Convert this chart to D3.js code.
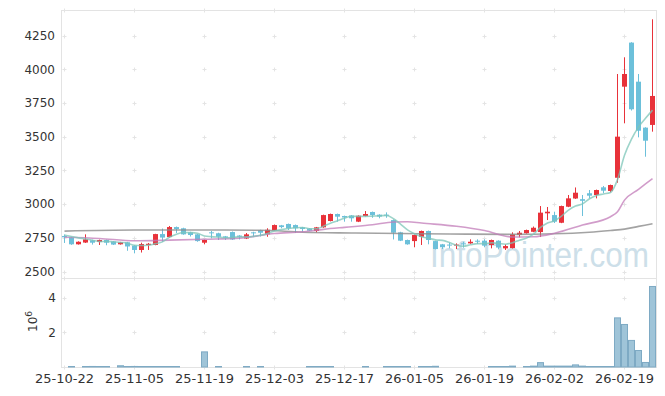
<!DOCTYPE html>
<html>
<head>
<meta charset="utf-8">
<script src="https://cdnjs.cloudflare.com/ajax/libs/d3/7.8.5/d3.min.js"></script>
<style>
  body { margin: 0; background: #fff; }
  svg { display: block; font-family: "DejaVu Sans", sans-serif; }
</style>
</head>
<body>
<svg id="chart" width="665" height="396"></svg>
<script>
// trading days (KRX), yy-mm-dd
var dates = ["25-10-22","25-10-23","25-10-24","25-10-27","25-10-28","25-10-29","25-10-30","25-10-31","25-11-03","25-11-04",
  "25-11-05","25-11-06","25-11-07","25-11-10","25-11-11","25-11-12","25-11-13","25-11-14","25-11-17","25-11-18",
  "25-11-19","25-11-20","25-11-21","25-11-24","25-11-25","25-11-26","25-11-27","25-11-28","25-12-01","25-12-02",
  "25-12-03","25-12-04","25-12-05","25-12-08","25-12-09","25-12-10","25-12-11","25-12-12","25-12-15","25-12-16",
  "25-12-17","25-12-18","25-12-19","25-12-22","25-12-23","25-12-24","25-12-26","25-12-29","25-12-30","26-01-02",
  "26-01-05","26-01-06","26-01-07","26-01-08","26-01-09","26-01-12","26-01-13","26-01-14","26-01-15","26-01-16",
  "26-01-19","26-01-20","26-01-21","26-01-22","26-01-23","26-01-26","26-01-27","26-01-28","26-01-29","26-01-30",
  "26-02-02","26-02-03","26-02-04","26-02-05","26-02-06","26-02-09","26-02-10","26-02-11","26-02-12","26-02-13",
  "26-02-19","26-02-20","26-02-23","26-02-24","26-02-25"];

var opens = [2764,2754,2702,2715,2732,2719,2734,2723,2702,2717, 2692,2660,2697,2697,2778,2756,2830,2821,2791,2776,
  2714,2791,2784,2761,2793,2767,2745,2791,2806,2776, 2806,2843,2853,2845,2828,2819,2801,2828,2875,2927,
  2912,2916,2870,2912,2942,2922,2922,2882,2791,2734, 2726,2758,2801,2726,2702,2700,2693,2709,2709,2729,
  2729,2697,2729,2672,2674,2771,2784,2795,2793,2932, 2919,2862,2981,3042,3037,3081,3068,3125,3098,3196,
  3872,4199,3909,3568,3588];
var highs = [2775,2758,2724,2776,2736,2737,2737,2726,2720,2720, 2695,2714,2712,2780,2819,2838,2834,2825,2795,2779,
  2737,2801,2788,2764,2797,2770,2786,2795,2810,2821, 2849,2846,2856,2849,2831,2822,2831,2922,2930,2930,
  2915,2919,2917,2949,2945,2925,2939,2886,2795,2737, 2774,2804,2804,2729,2705,2714,2709,2721,2739,2739,
  2739,2737,2732,2702,2791,2801,2811,2834,2986,2979, 2944,2989,3068,3124,3068,3105,3108,3135,3145,3966,
  4090,4202,3966,3571,4372];
var lows = [2712,2698,2700,2712,2700,2697,2695,2697,2700,2654, 2635,2641,2660,2695,2721,2752,2786,2773,2760,2721,
  2702,2746,2734,2734,2734,2738,2741,2756,2760,2758, 2803,2821,2808,2786,2795,2800,2791,2825,2872,2870,
  2870,2870,2867,2909,2899,2895,2899,2738,2726,2699, 2680,2697,2702,2664,2667,2672,2667,2677,2706,2704,
  2680,2672,2665,2660,2671,2754,2781,2792,2756,2882, 2860,2859,2978,3039,2912,3043,3043,3081,3088,3159,
  3600,3695,3496,3352,3538];
var closes = [2754,2702,2721,2739,2714,2734,2714,2700,2717,2686, 2660,2704,2706,2778,2752,2830,2815,2776,2771,2726,
  2734,2786,2758,2751,2738,2758,2776,2784,2788,2810, 2845,2830,2821,2821,2816,2803,2828,2919,2927,2907,
  2901,2895,2914,2927,2919,2908,2917,2788,2729,2702, 2771,2801,2734,2667,2680,2693,2700,2702,2721,2721,
  2692,2734,2678,2689,2776,2788,2808,2825,2937,2944, 2870,2986,3043,3085,3025,3063,3105,3100,3142,3501,
  3966,3704,3545,3471,3803];

// volume, millions of shares
var volume = [0,0.02,0,0.02,0.06,0.02,0.02,0,0.1,0.02, 0.06,0.02,0.02,0.02,0.02,0.02,0.02,0,0,0,
  0.9,0,0.02,0,0,0,0.02,0,0.02,0, 0,0,0,0,0,0.02,0.02,0.02,0.02,0,
  0,0,0,0.02,0,0,0.02,0.02,0.02,0.02, 0,0.02,0.02,0.07,0,0,0,0,0,0,
  0,0.02,0.02,0.02,0.08,0,0.02,0.08,0.28,0.08, 0.08,0.08,0.08,0.15,0.08,0.02,0.02,0.02,0.02,2.86,
  2.48,1.56,0.98,0.29,4.67];

// moving averages
var ma5 = [2771,2760,2750,2742,2732,2722,2724,2720,2716,2710, 2695,2693,2695,2707,2720,2754,2776,2790,2789,2784,
  2764,2759,2755,2751,2753,2758,2756,2761,2769,2783, 2801,2811,2819,2825,2827,2818,2818,2837,2859,2877,
  2896,2910,2909,2909,2911,2913,2917,2892,2852,2809, 2781,2758,2747,2735,2731,2715,2695,2688,2699,2707,
  2707,2714,2709,2703,2714,2733,2748,2777,2827,2860, 2877,2912,2956,2986,3002,3040,3064,3076,3087,3182,
  3363,3483,3572,3637,3698];
var ma20 = [[0,2754],[5,2745],[10,2728],[15,2733],[20,2740],[25,2748],[30,2782],[34,2795],[37,2813],[40,2828],
  [44,2847],[47,2868],[49,2870],[51,2860],[56,2836],[60,2805],[64,2756],[67,2758],[70,2784],[74,2845],
  [78,2907],[79,2944],[80,3030],[82,3110],[84,3190]];
var ma60 = [[0,2800],[10,2808],[20,2808],[28,2806],[34,2792],[41,2786],[48,2782],[55,2779],[64,2776],[70,2780],
  [75,2792],[78,2805],[80,2815],[82,2835],[84,2855]];

var priceTicks = [2500,2750,3000,3250,3500,3750,4000,4250];
var volTicks = [2,4];
var dateTickIdx = [0,10,20,30,40,50,60,70,80];

var svg = d3.select("#chart");
var plotLeft = 61, plotRight = 656, plotTop = 10, plotMid = 278, plotBottom = 367;

var x = d3.scaleLinear().domain([-0.5, dates.length - 0.5]).range([plotLeft, plotRight]);
var yP = d3.scaleLinear().domain([2452, 4441]).range([plotMid, plotTop]);
var yV = d3.scaleLinear().domain([0, 5.13]).range([plotBottom, plotMid]);

// watermark
svg.append("text")
    .attr("x", 430).attr("y", 267)
    .attr("textLength", 219).attr("lengthAdjust", "spacingAndGlyphs")
    .style("font-family", "'Liberation Sans', sans-serif")
    .style("font-size", "35px")
    .attr("fill", "#cddfe9")
    .text("InfoPointer.com");

// frame
var frame = svg.append("g").attr("stroke", "#e3e3e3").attr("fill", "none");
frame.append("rect").attr("x", plotLeft + 0.5).attr("y", plotTop + 0.5)
    .attr("width", plotRight - plotLeft).attr("height", plotBottom - plotTop);
frame.append("line").attr("x1", plotLeft).attr("x2", plotRight).attr("y1", plotMid + 0.5).attr("y2", plotMid + 0.5);

// small "+" markers at grid intersections
var gridY = priceTicks.map(function (d) { return yP(d); })
    .concat(volTicks.map(function (d) { return yV(d); }))
    .concat([plotTop, plotMid, plotBottom]);
var crosses = [];
dateTickIdx.forEach(function (i) {
    gridY.forEach(function (gy) { crosses.push([x(i), Math.round(gy) + 0.5]); });
});
svg.append("g").attr("stroke", "#e4e4e4").attr("stroke-width", 1)
    .selectAll("path").data(crosses).enter().append("path")
    .attr("d", function (d) { return "M" + (d[0] - 2) + "," + d[1] + "h4M" + d[0] + "," + (d[1] - 2) + "v4"; });

// volume bars
svg.append("g").selectAll("rect")
    .data(volume.map(function (v, i) { return { i: i, v: v }; }).filter(function (d) { return d.v > 0; }))
    .enter().append("rect")
    .attr("x", function (d) { return x(d.i - 0.5) + 0.5; })
    .attr("width", function (d) { return x(d.i + 0.5) - x(d.i - 0.5) - 1; })
    .attr("y", function (d) { return Math.min(yV(d.v), plotBottom - 1) + 0.5; })
    .attr("height", function (d) { return Math.max(1, plotBottom - yV(d.v)) - 0.5; })
    .attr("fill", "#9fc4d8")
    .attr("stroke", "#7eaac4")
    .attr("stroke-width", 1);

// candles
var up = "#e8323a", down = "#6cc0da";
var candles = svg.append("g").selectAll("g")
    .data(dates.map(function (d, i) { return i; }))
    .enter().append("g");
candles.append("line")
    .attr("x1", function (i) { return x(i); }).attr("x2", function (i) { return x(i); })
    .attr("y1", function (i) { return yP(highs[i]); }).attr("y2", function (i) { return yP(lows[i]); })
    .attr("stroke", function (i) { return closes[i] >= opens[i] ? up : down; })
    .attr("stroke-width", 1);
candles.append("rect")
    .attr("x", function (i) { return x(i) - 2.5; })
    .attr("width", 5)
    .attr("y", function (i) { return yP(Math.max(opens[i], closes[i])); })
    .attr("height", function (i) { return Math.max(1, Math.abs(yP(opens[i]) - yP(closes[i]))); })
    .attr("fill", function (i) { return closes[i] >= opens[i] ? up : down; });

// moving average lines
var line = d3.line().curve(d3.curveMonotoneX)
    .x(function (d) { return x(d[0]); })
    .y(function (d) { return yP(d[1]); });
svg.append("path").datum(ma60).attr("d", line)
    .attr("fill", "none").attr("stroke", "#8c8c8c").attr("stroke-opacity", 0.8).attr("stroke-width", 1.6);
svg.append("path").datum(ma20).attr("d", line)
    .attr("fill", "none").attr("stroke", "#c27bb8").attr("stroke-opacity", 0.75).attr("stroke-width", 1.6);
svg.append("path").datum(ma5.map(function (v, i) { return [i, v]; })).attr("d", line)
    .attr("fill", "none").attr("stroke", "#7cc6b8").attr("stroke-opacity", 0.75).attr("stroke-width", 1.6);

// axis labels
var labels = svg.append("g").attr("fill", "#333");
labels.selectAll(".py").data(priceTicks).enter().append("text")
    .attr("x", 55).attr("y", function (d) { return yP(d); })
    .attr("dy", "0.36em").attr("text-anchor", "end")
    .style("font-size", "12px")
    .text(function (d) { return d; });
labels.selectAll(".vy").data(volTicks).enter().append("text")
    .attr("x", 56).attr("y", function (d) { return yV(d); })
    .attr("dy", "0.36em").attr("text-anchor", "end")
    .style("font-size", "12px")
    .text(function (d) { return d; });
labels.selectAll(".dx").data(dateTickIdx).enter().append("text")
    .attr("x", function (i) { return x(i); }).attr("y", 382.5)
    .attr("text-anchor", "middle")
    .style("font-size", "13px")
    .text(function (i) { return dates[i]; });

// volume multiplier
var mult = labels.append("text")
    .attr("transform", "translate(37,332) rotate(-90)")
    .style("font-size", "12px");
mult.append("tspan").text("10");
mult.append("tspan").attr("dy", "-5").style("font-size", "9px").text("6");
</script>
</body>
</html>
